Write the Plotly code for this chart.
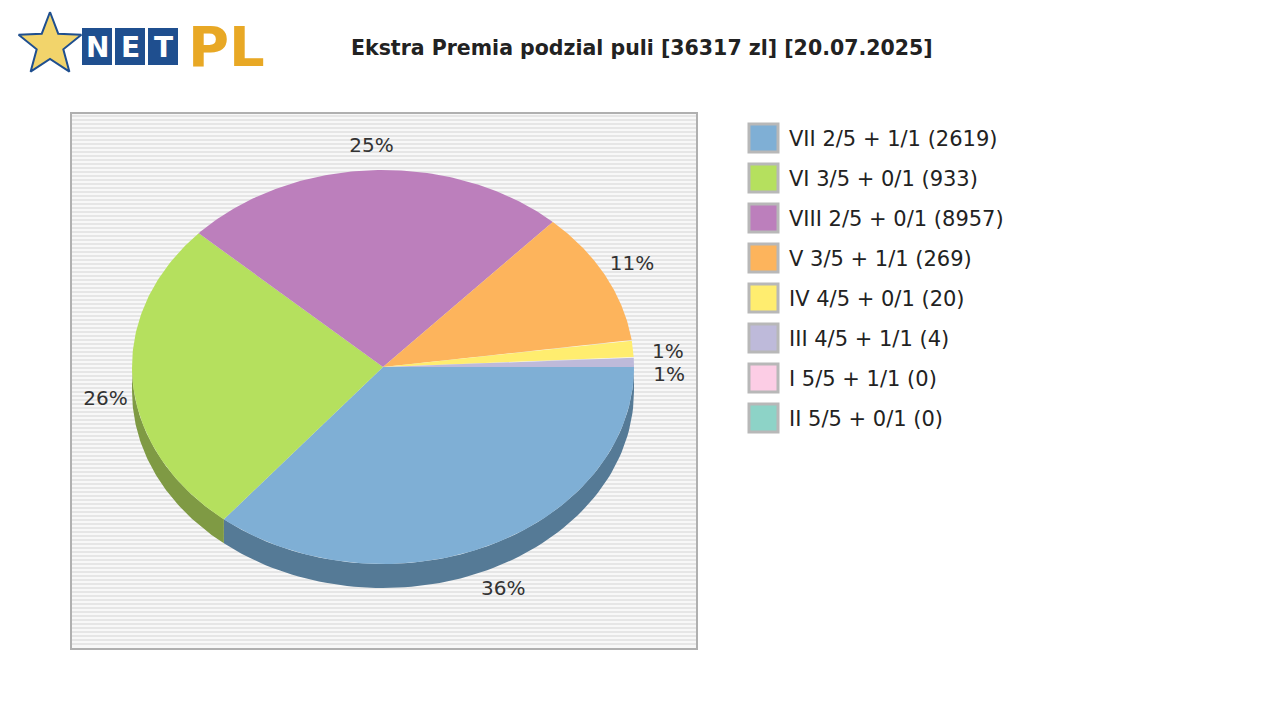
import numpy as np
import plotly.graph_objects as go

# pool share per tier (percent) and number of winners
labels = ["VII 2/5 + 1/1", "VI 3/5 + 0/1", "VIII 2/5 + 0/1", "V 3/5 + 1/1",
          "IV 4/5 + 0/1", "III 4/5 + 1/1", "I 5/5 + 1/1", "II 5/5 + 0/1"]
winners = [2619, 933, 8957, 269, 20, 4, 0, 0]
shares = [36.0, 26.0, 25.0, 11.0, 1.4, 0.8, 0.0, 0.0]
colors = ["#7fafd5", "#b5e05e", "#bc7fbc", "#fdb45c", "#ffed6f", "#bebada", "#fccde5", "#8dd3c7"]
sides = ["#557a96", "#7f9a44", "#84598a", "#b27e40", "#b3a64e", "#85839a", "#b08fa0", "#63948b"]

cx, cy, rx, ry, depth = 383, 367, 251, 197, 24

fig = go.Figure()

# plot box stripes
sx, sy = [], []
for y in range(116, 648, 4):
    sx += [72, 696, None]
    sy += [y, y, None]
fig.add_shape(type="rect", x0=71, y0=113, x1=697, y1=649, fillcolor="#f8f8f8",
              line=dict(color="#b0b0b0", width=2), layer="below")
fig.add_trace(go.Scatter(x=sx, y=sy, mode="lines", line=dict(color="#e6e6e6", width=2),
                         hoverinfo="skip", showlegend=False))

total = sum(shares)
bounds = np.cumsum([0] + shares) / total * 2 * np.pi

# side walls (lower half only)
for i in range(len(shares)):
    a0, a1 = bounds[i], min(bounds[i + 1], np.pi)
    if a1 <= a0:
        continue
    t = np.linspace(a0, a1, 80)
    x = np.concatenate([cx + rx * np.cos(t), (cx + rx * np.cos(t))[::-1]])
    y = np.concatenate([cy + ry * np.sin(t), (cy + depth + ry * np.sin(t))[::-1]])
    fig.add_trace(go.Scatter(x=x, y=y, fill="toself", fillcolor=sides[i], mode="lines",
                             line=dict(width=0), hoverinfo="skip", showlegend=False))

# tops
for i in range(len(shares)):
    if shares[i] == 0:
        continue
    t = np.linspace(bounds[i], bounds[i + 1], 120)
    x = np.concatenate([[cx], cx + rx * np.cos(t), [cx]])
    y = np.concatenate([[cy], cy + ry * np.sin(t), [cy]])
    fig.add_trace(go.Scatter(x=x, y=y, fill="toself", fillcolor=colors[i], mode="lines",
                             line=dict(width=0), hoverinfo="skip", showlegend=False))

# percent labels
lx, ly, lt = [], [], []
for i in range(len(shares)):
    if shares[i] == 0:
        continue
    m = (bounds[i] + bounds[i + 1]) / 2
    k = 1.12
    dy = depth if np.sin(m) > 0 else 0
    lx.append(cx + rx * k * np.cos(m) + (5 if abs(np.cos(m)) > 0.98 else 0) + (-2 if i == 1 else 0))
    ly.append(cy + ry * k * np.sin(m) + dy + (7 if i == 4 else 0) + (15 if i == 5 else 0)
              + (-6 if i == 1 else 0))
    lt.append(f"{round(shares[i])}%" if shares[i] >= 1 else "1%")
fig.add_trace(go.Scatter(x=lx, y=ly, text=lt, mode="text",
                         textfont=dict(family="DejaVu Sans", size=20, color="#333333"),
                         hoverinfo="skip", showlegend=False))

# legend
for i, lab in enumerate(labels):
    y = 138 + 40 * i
    fig.add_shape(type="rect", x0=749, y0=y - 14, x1=778, y1=y + 14, fillcolor=colors[i],
                  line=dict(color="#b8b8b8", width=3))
    fig.add_annotation(x=787, y=y + 1, text=f"{lab} ({winners[i]})", showarrow=False, xanchor="left",
                       font=dict(family="DejaVu Sans", size=21, color="#222222"))

# title
fig.add_annotation(x=642, y=48, text="<b>Ekstra Premia podzial puli [36317 zl] [20.07.2025]</b>",
                   showarrow=False, font=dict(family="DejaVu Sans", size=20.5, color="#222222"))

# logo
star_t = np.linspace(-np.pi / 2, 1.5 * np.pi, 11)
star_r = np.array([33 if j % 2 == 0 else 14 for j in range(11)])
fig.add_trace(go.Scatter(x=50 + star_r * np.cos(star_t), y=45 + star_r * np.sin(star_t),
                         fill="toself", fillcolor="#f2d46b", line=dict(color="#1f4f8f", width=2),
                         mode="lines", hoverinfo="skip", showlegend=False))
for j, ch in enumerate("NET"):
    x0 = 82 + 33 * j
    fig.add_shape(type="rect", x0=x0, y0=28, x1=x0 + 30, y1=65, fillcolor="#1f4f8f", line=dict(width=0))
    fig.add_annotation(x=x0 + 15, y=47, text=f"<b>{ch}</b>", showarrow=False,
                       font=dict(family="DejaVu Sans", size=28, color="white"))
fig.add_annotation(x=226, y=46, text="<b>PL</b>", showarrow=False,
                   font=dict(family="DejaVu Sans", size=56, color="#e8a825"))

# page has an 8px body margin, so offset axis ranges to keep pixel coordinates
fig.update_layout(width=1280, height=720, margin=dict(l=0, r=0, t=0, b=0),
                  plot_bgcolor="white", paper_bgcolor="white",
                  xaxis=dict(range=[8, 1288], visible=False, fixedrange=True),
                  yaxis=dict(range=[728, 8], visible=False, fixedrange=True))
fig.write_html("out.html")
